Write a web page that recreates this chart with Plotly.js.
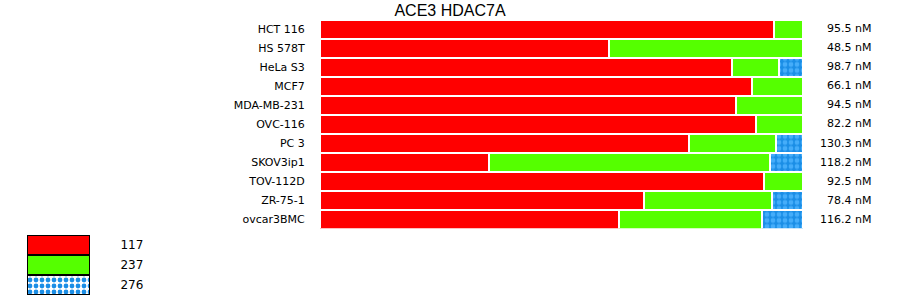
<!DOCTYPE html>
<html>
<head>
<meta charset="utf-8">
<script src="https://cdn.plot.ly/plotly-3.0.1.min.js"></script>
<style>html,body{margin:0;padding:0;background:#fff;}#chart{width:900px;height:299px;}</style>
</head>
<body>
<div id="chart"></div>
<script>
var cells = ['HCT 116','HS 578T','HeLa S3','MCF7','MDA-MB-231','OVC-116','PC 3','SKOV3ip1','TOV-112D','ZR-75-1','ovcar3BMC'];
var s117 = [94.0, 59.8, 85.3, 89.4, 86.1, 90.3, 76.4, 35.0, 91.9, 67.1, 61.9];
var s237 = [6.0, 40.2, 9.7, 10.6, 13.9, 9.7, 18.0, 58.2, 8.1, 26.5, 29.6];
var s276 = [0, 0, 5.0, 0, 0, 0, 5.6, 6.8, 0, 6.4, 8.5];
var ic50 = [95.5, 48.5, 98.7, 66.1, 94.5, 82.2, 130.3, 118.2, 92.5, 78.4, 116.2];
var seriesNames = ['117', '237', '276'];
var seriesColors = ['#ff0000', '#55ff00', '#1a8ee6'];
var patternShapes = ['', '', '.'];
var FONT = 'DejaVu Sans, Verdana, sans-serif';

var seriesVals = [s117, s237, s276];
var traces = seriesVals.map(function(v, i) {
  return {
    type: 'bar', orientation: 'h', y: cells, x: v, name: seriesNames[i],
    xaxis: 'x', yaxis: 'y', showlegend: false, hoverinfo: 'x+y',
    marker: {
      color: seriesColors[i],
      line: {color: '#ffffff', width: 2},
      pattern: {shape: patternShapes[i], bgcolor: seriesColors[i], fgcolor: '#45adfa', size: 6, solidity: 0.5}
    }
  };
});

// legend block drawn as a small bar chart of the series
traces.push({
  type: 'bar', orientation: 'h', y: seriesNames, x: seriesNames.map(function(){return 1;}),
  xaxis: 'x2', yaxis: 'y2', showlegend: false, hoverinfo: 'skip',
  marker: {
    color: seriesColors,
    line: {color: '#000000', width: 1.5},
    pattern: {shape: patternShapes, bgcolor: seriesColors, fgcolor: '#45adfa', size: 6, solidity: 0.5}
  }
});

var annotations = cells.map(function(c, i) {
  return {
    xref: 'paper', yref: 'y', x: 873/900, y: c, xanchor: 'right', yanchor: 'middle',
    text: ic50[i].toFixed(1) + ' nM', showarrow: false,
    font: {family: FONT, size: 11, color: '#000'}
  };
});

var layout = {
  width: 900, height: 299,
  margin: {l: 0, r: 0, t: 0, b: 0},
  paper_bgcolor: '#fff', plot_bgcolor: '#fff',
  barmode: 'stack', bargap: 0,
  title: {text: 'ACE3 HDAC7A', x: 0.5, xanchor: 'center', y: 0.965, yanchor: 'middle',
          font: {family: 'Liberation Sans, Arial, sans-serif', size: 16, color: '#000'}},
  xaxis: {domain: [320/900, 803/900], range: [0, 100], showgrid: false, zeroline: false,
          showticklabels: false, ticks: '', showline: false, fixedrange: true},
  yaxis: {domain: [1 - 228.5/299, 1 - 19.5/299], type: 'category', autorange: 'reversed', showgrid: false,
          zeroline: false, showline: false, ticks: 'outside', ticklen: 12, tickcolor: 'rgba(0,0,0,0)',
          tickfont: {family: FONT, size: 11, color: '#000'}},
  xaxis2: {domain: [27/900, 90/900], range: [0, 1], anchor: 'y2', showgrid: false, zeroline: false,
           showticklabels: false, showline: false, ticks: ''},
  yaxis2: {domain: [1 - 295/299, 1 - 235/299], anchor: 'x2', side: 'right', type: 'category',
           autorange: 'reversed', showgrid: false, zeroline: false, showline: false, ticks: 'outside',
           ticklen: 27, tickcolor: 'rgba(0,0,0,0)', tickfont: {family: FONT, size: 12, color: '#000'}},
  annotations: annotations
};

Plotly.newPlot('chart', traces, layout, {displayModeBar: false, staticPlot: true});
</script>
</body>
</html>
